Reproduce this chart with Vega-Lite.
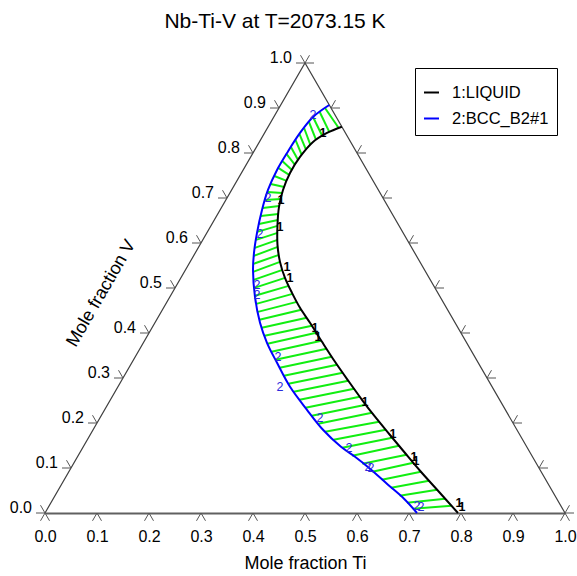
{
"$schema": "https://vega.github.io/schema/vega-lite/v6.json",
"width": 520, "height": 450,
"autosize": {"type": "none"},
"padding": {"left": 45, "top": 63, "right": 12, "bottom": 63},
"background": "white",
"config": {"view": {"stroke": null}, "font": "Liberation Sans"},
"title": {"text": "Nb-Ti-V at T=2073.15 K", "fontSize": 21, "fontWeight": "normal", "color": "black", "anchor": "middle", "frame": "group", "dx": -30, "offset": 18},
"datasets": {
"frame": [{"x":0,"v":0,"i":0},{"x":0.5,"v":1,"i":1},{"x":1,"v":0,"i":2}],
"bt": [{"x":0,"v":0},{"x":0.1,"v":0},{"x":0.2,"v":0},{"x":0.3,"v":0},{"x":0.4,"v":0},{"x":0.5,"v":0},{"x":0.6,"v":0},{"x":0.7,"v":0},{"x":0.8,"v":0},{"x":0.9,"v":0},{"x":1,"v":0}],
"lt": [{"x":0,"v":0,"label":"0.0"},{"x":0.05,"v":0.1,"label":"0.1"},{"x":0.1,"v":0.2,"label":"0.2"},{"x":0.15,"v":0.3,"label":"0.3"},{"x":0.2,"v":0.4,"label":"0.4"},{"x":0.25,"v":0.5,"label":"0.5"},{"x":0.3,"v":0.6,"label":"0.6"},{"x":0.35,"v":0.7,"label":"0.7"},{"x":0.4,"v":0.8,"label":"0.8"},{"x":0.45,"v":0.9,"label":"0.9"},{"x":0.5,"v":1,"label":"1.0"}],
"rt": [{"x":1,"v":0},{"x":0.95,"v":0.1},{"x":0.9,"v":0.2},{"x":0.85,"v":0.3},{"x":0.8,"v":0.4},{"x":0.75,"v":0.5},{"x":0.7,"v":0.6},{"x":0.65,"v":0.7},{"x":0.6,"v":0.8},{"x":0.55,"v":0.9},{"x":0.5,"v":1}],
"vtitle": [{"x":0.21,"v":0.42,"t":"Mole fraction V"}],
"curves": [
{"phase":"1:LIQUID","i":0,"x":0.5708,"v":0.8584},
{"phase":"1:LIQUID","i":1,"x":0.5423,"v":0.8446},
{"phase":"1:LIQUID","i":2,"x":0.5154,"v":0.8245},
{"phase":"1:LIQUID","i":3,"x":0.4904,"v":0.7912},
{"phase":"1:LIQUID","i":4,"x":0.4712,"v":0.7557},
{"phase":"1:LIQUID","i":5,"x":0.4577,"v":0.7179},
{"phase":"1:LIQUID","i":6,"x":0.4500,"v":0.6802},
{"phase":"1:LIQUID","i":7,"x":0.4471,"v":0.6402},
{"phase":"1:LIQUID","i":8,"x":0.4471,"v":0.5958},
{"phase":"1:LIQUID","i":9,"x":0.4519,"v":0.5581},
{"phase":"1:LIQUID","i":10,"x":0.4615,"v":0.5225},
{"phase":"1:LIQUID","i":11,"x":0.4750,"v":0.4892},
{"phase":"1:LIQUID","i":12,"x":0.4904,"v":0.4559},
{"phase":"1:LIQUID","i":13,"x":0.5096,"v":0.4226},
{"phase":"1:LIQUID","i":14,"x":0.5327,"v":0.3804},
{"phase":"1:LIQUID","i":15,"x":0.5577,"v":0.3360},
{"phase":"1:LIQUID","i":16,"x":0.5846,"v":0.2916},
{"phase":"1:LIQUID","i":17,"x":0.6096,"v":0.2516},
{"phase":"1:LIQUID","i":18,"x":0.6346,"v":0.2139},
{"phase":"1:LIQUID","i":19,"x":0.6615,"v":0.1761},
{"phase":"1:LIQUID","i":20,"x":0.6904,"v":0.1361},
{"phase":"1:LIQUID","i":21,"x":0.7212,"v":0.0939},
{"phase":"1:LIQUID","i":22,"x":0.7558,"v":0.0495},
{"phase":"1:LIQUID","i":23,"x":0.7942,"v":0},
{"phase":"2:BCC_B2#1","i":0,"x":0.5466,"v":0.9067},
{"phase":"2:BCC_B2#1","i":1,"x":0.5154,"v":0.8801},
{"phase":"2:BCC_B2#1","i":2,"x":0.4904,"v":0.8446},
{"phase":"2:BCC_B2#1","i":3,"x":0.4654,"v":0.8001},
{"phase":"2:BCC_B2#1","i":4,"x":0.4462,"v":0.7624},
{"phase":"2:BCC_B2#1","i":5,"x":0.4288,"v":0.7179},
{"phase":"2:BCC_B2#1","i":6,"x":0.4173,"v":0.6736},
{"phase":"2:BCC_B2#1","i":7,"x":0.4077,"v":0.6225},
{"phase":"2:BCC_B2#1","i":8,"x":0.4019,"v":0.5781},
{"phase":"2:BCC_B2#1","i":9,"x":0.4000,"v":0.5403},
{"phase":"2:BCC_B2#1","i":10,"x":0.4038,"v":0.4804},
{"phase":"2:BCC_B2#1","i":11,"x":0.4135,"v":0.4226},
{"phase":"2:BCC_B2#1","i":12,"x":0.4269,"v":0.3782},
{"phase":"2:BCC_B2#1","i":13,"x":0.4462,"v":0.3338},
{"phase":"2:BCC_B2#1","i":14,"x":0.4712,"v":0.2805},
{"phase":"2:BCC_B2#1","i":15,"x":0.5038,"v":0.2294},
{"phase":"2:BCC_B2#1","i":16,"x":0.5346,"v":0.1850},
{"phase":"2:BCC_B2#1","i":17,"x":0.5692,"v":0.1472},
{"phase":"2:BCC_B2#1","i":18,"x":0.5962,"v":0.1250},
{"phase":"2:BCC_B2#1","i":19,"x":0.6250,"v":0.0984},
{"phase":"2:BCC_B2#1","i":20,"x":0.6596,"v":0.0628},
{"phase":"2:BCC_B2#1","i":21,"x":0.6904,"v":0.0317},
{"phase":"2:BCC_B2#1","i":22,"x":0.7154,"v":0}
],
"ties": [
{"x":0.5385,"v":0.9000,"x2":0.5648,"v2":0.8556},
{"x":0.5283,"v":0.8912,"x2":0.5467,"v2":0.8468},
{"x":0.5154,"v":0.8801,"x2":0.5333,"v2":0.8379},
{"x":0.5075,"v":0.8690,"x2":0.5213,"v2":0.8290},
{"x":0.4983,"v":0.8556,"x2":0.5104,"v2":0.8179},
{"x":0.4892,"v":0.8423,"x2":0.5021,"v2":0.8068},
{"x":0.4817,"v":0.8290,"x2":0.4937,"v2":0.7957},
{"x":0.4729,"v":0.8134,"x2":0.4867,"v2":0.7846},
{"x":0.4642,"v":0.7979,"x2":0.4808,"v2":0.7735},
{"x":0.4563,"v":0.7824,"x2":0.4748,"v2":0.7624},
{"x":0.4485,"v":0.7668,"x2":0.4696,"v2":0.7513},
{"x":0.4410,"v":0.7490,"x2":0.4648,"v2":0.7379},
{"x":0.4340,"v":0.7313,"x2":0.4600,"v2":0.7246},
{"x":0.4277,"v":0.7135,"x2":0.4563,"v2":0.7113},
{"x":0.4231,"v":0.6957,"x2":0.4537,"v2":0.6980},
{"x":0.4185,"v":0.6780,"x2":0.4504,"v2":0.6824},
{"x":0.4148,"v":0.6602,"x2":0.4488,"v2":0.6647},
{"x":0.4115,"v":0.6424,"x2":0.4479,"v2":0.6513},
{"x":0.4081,"v":0.6247,"x2":0.4471,"v2":0.6380},
{"x":0.4058,"v":0.6069,"x2":0.4471,"v2":0.6225},
{"x":0.4035,"v":0.5891,"x2":0.4471,"v2":0.6069},
{"x":0.4015,"v":0.5714,"x2":0.4477,"v2":0.5914},
{"x":0.4008,"v":0.5536,"x2":0.4500,"v2":0.5736},
{"x":0.4002,"v":0.5359,"x2":0.4519,"v2":0.5581},
{"x":0.4013,"v":0.5181,"x2":0.4567,"v2":0.5403},
{"x":0.4025,"v":0.5003,"x2":0.4615,"v2":0.5225},
{"x":0.4037,"v":0.4826,"x2":0.4687,"v2":0.5048},
{"x":0.4063,"v":0.4648,"x2":0.4760,"v2":0.4870},
{"x":0.4094,"v":0.4470,"x2":0.4842,"v2":0.4692},
{"x":0.4123,"v":0.4293,"x2":0.4929,"v2":0.4515},
{"x":0.4169,"v":0.4115,"x2":0.5033,"v2":0.4337},
{"x":0.4223,"v":0.3937,"x2":0.5133,"v2":0.4159},
{"x":0.4279,"v":0.3760,"x2":0.5217,"v2":0.4004},
{"x":0.4356,"v":0.3582,"x2":0.5315,"v2":0.3826},
{"x":0.4433,"v":0.3404,"x2":0.5415,"v2":0.3649},
{"x":0.4513,"v":0.3227,"x2":0.5515,"v2":0.3471},
{"x":0.4596,"v":0.3049,"x2":0.5617,"v2":0.3293},
{"x":0.4681,"v":0.2871,"x2":0.5725,"v2":0.3116},
{"x":0.4783,"v":0.2694,"x2":0.5833,"v2":0.2938},
{"x":0.4896,"v":0.2516,"x2":0.5944,"v2":0.2760},
{"x":0.5010,"v":0.2338,"x2":0.6054,"v2":0.2583},
{"x":0.5131,"v":0.2161,"x2":0.6169,"v2":0.2405},
{"x":0.5254,"v":0.1983,"x2":0.6287,"v2":0.2227},
{"x":0.5387,"v":0.1805,"x2":0.6425,"v2":0.2027},
{"x":0.5550,"v":0.1628,"x2":0.6552,"v2":0.1850},
{"x":0.5717,"v":0.1450,"x2":0.6679,"v2":0.1672},
{"x":0.5910,"v":0.1272,"x2":0.6808,"v2":0.1495},
{"x":0.6104,"v":0.1095,"x2":0.6952,"v2":0.1295},
{"x":0.6296,"v":0.0917,"x2":0.7083,"v2":0.1117},
{"x":0.6477,"v":0.0739,"x2":0.7229,"v2":0.0917},
{"x":0.6656,"v":0.0562,"x2":0.7385,"v2":0.0717},
{"x":0.6821,"v":0.0384,"x2":0.7540,"v2":0.0517},
{"x":0.6960,"v":0.0229,"x2":0.7696,"v2":0.0318},
{"x":0.7073,"v":0.0095,"x2":0.7817,"v2":0.0162}
],
"labs1": [
{"x":0.5346,"v":0.8446,"t":"1"},{"x":0.4538,"v":0.6957,"t":"1"},{"x":0.4519,"v":0.6358,"t":"1"},{"x":0.4654,"v":0.5470,"t":"1"},{"x":0.4712,"v":0.5225,"t":"1"},{"x":0.5192,"v":0.4115,"t":"1"},{"x":0.5250,"v":0.3915,"t":"1"},{"x":0.6154,"v":0.2472,"t":"1"},{"x":0.6692,"v":0.1761,"t":"1"},{"x":0.7096,"v":0.1250,"t":"1"},{"x":0.7135,"v":0.1161,"t":"1"},{"x":0.7962,"v":0.0229,"t":"1"},{"x":0.8019,"v":0.0140,"t":"1"}
],
"labs2": [
{"x":0.5154,"v":0.8845,"t":"2"},{"x":0.4288,"v":0.7002,"t":"2"},{"x":0.4135,"v":0.6202,"t":"2"},{"x":0.4077,"v":0.5070,"t":"2"},{"x":0.4077,"v":0.4848,"t":"2"},{"x":0.4481,"v":0.3471,"t":"2"},{"x":0.4519,"v":0.2805,"t":"2"},{"x":0.5288,"v":0.2116,"t":"2"},{"x":0.5846,"v":0.1450,"t":"2"},{"x":0.6212,"v":0.1028,"t":"2"},{"x":0.6269,"v":0.1006,"t":"2"},{"x":0.7154,"v":0.0162,"t":"2"},{"x":0.7231,"v":0.0140,"t":"2"}
]
},
"encoding": {
"x": {"field": "x", "type": "quantitative", "scale": {"domain": [0, 1], "nice": false, "zero": false},
 "axis": {"values": [0,0.1,0.2,0.3,0.4,0.5,0.6,0.7,0.8,0.9,1], "format": ".1f", "grid": false, "ticks": false, "domain": true, "domainColor": "#606060", "domainWidth": 2, "labelFontSize": 16, "labelColor": "black", "labelPadding": 15, "labelFlush": false, "labelOverlap": false, "title": "Mole fraction Ti", "titleFontSize": 18, "titleFontWeight": "normal", "titleColor": "black", "titlePadding": 10}},
"y": {"field": "v", "type": "quantitative", "scale": {"domain": [0, 1], "nice": false, "zero": false}, "axis": null}
},
"layer": [
{"data": {"name": "frame"}, "mark": {"type": "line", "color": "#404040", "strokeWidth": 1.2}, "encoding": {"order": {"field": "i", "type": "quantitative"}}},
{"data": {"name": "bt"}, "mark": {"type": "point", "shape": "M0,0L-0.5,0.866M0,0L0.5,0.866", "size": 324, "filled": false, "color": "#555555", "strokeWidth": 1, "opacity": 1}},
{"data": {"name": "lt"}, "mark": {"type": "point", "shape": "M0,0L-1,0M0,0L-0.5,-0.866", "size": 324, "filled": false, "color": "#555555", "strokeWidth": 1, "opacity": 1}},
{"data": {"name": "rt"}, "mark": {"type": "point", "shape": "M0,0L1,0M0,0L0.5,-0.866", "size": 324, "filled": false, "color": "#555555", "strokeWidth": 1, "opacity": 1}},
{"data": {"name": "lt"}, "mark": {"type": "text", "align": "right", "baseline": "alphabetic", "dx": -13, "fontSize": 16, "color": "black"}, "encoding": {"text": {"field": "label"}}},
{"data": {"name": "vtitle"}, "mark": {"type": "text", "align": "center", "baseline": "middle", "angle": -60, "dy": -61, "fontSize": 18, "color": "black"}, "encoding": {"text": {"field": "t"}}},
{"data": {"name": "ties"}, "mark": {"type": "rule", "color": "#11ee11", "strokeWidth": 2}, "encoding": {"x2": {"field": "x2"}, "y2": {"field": "v2"}}},
{"data": {"name": "curves"}, "mark": {"type": "line", "strokeWidth": 2, "interpolate": "catmull-rom"},
 "encoding": {"order": {"field": "i", "type": "quantitative"},
  "color": {"field": "phase", "type": "nominal", "scale": {"domain": ["1:LIQUID", "2:BCC_B2#1"], "range": ["#000000", "#0000ff"]},
   "legend": {"title": " ", "titleFontSize": 8, "titlePadding": 0, "orient": "none", "legendX": 370, "legendY": 5, "symbolType": "stroke", "symbolStrokeWidth": 2, "symbolSize": 225, "labelFontSize": 16.5, "labelColor": "black", "strokeColor": "black", "fillColor": "white", "padding": 8, "rowPadding": 9, "labelOffset": 12, "labelLimit": 300}}}},
{"data": {"name": "labs1"}, "mark": {"type": "text", "fontSize": 12.5, "fontWeight": "bold", "color": "black", "align": "center", "baseline": "middle"}, "encoding": {"text": {"field": "t"}}},
{"data": {"name": "labs2"}, "mark": {"type": "text", "fontSize": 12.5, "color": "#2a2adc", "align": "center", "baseline": "middle"}, "encoding": {"text": {"field": "t"}}}
]
}
